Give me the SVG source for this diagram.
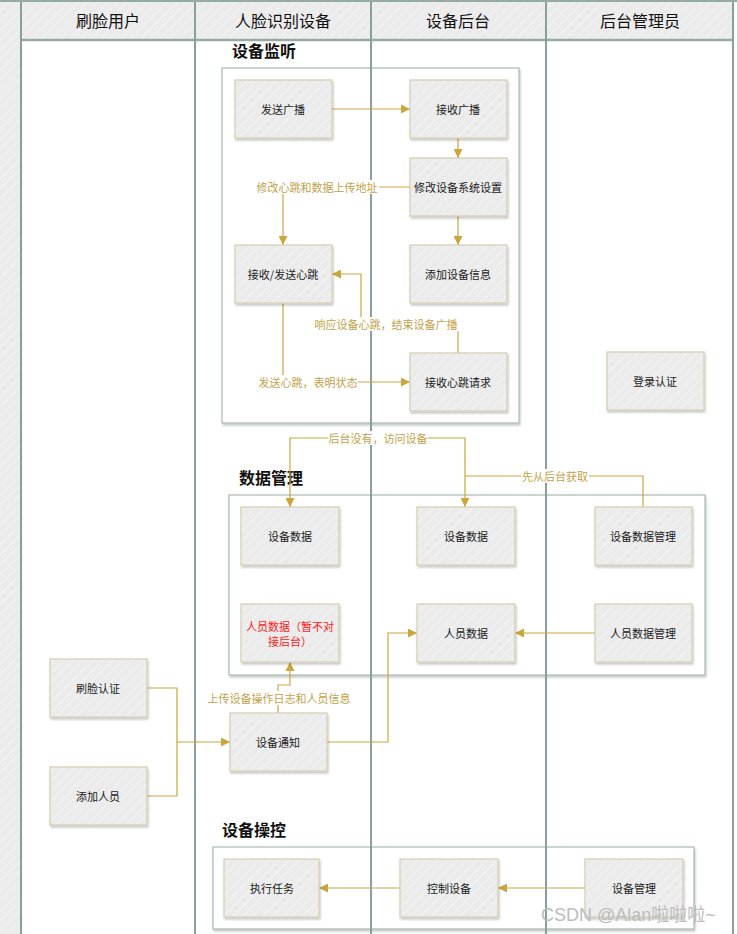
<svg xmlns="http://www.w3.org/2000/svg" width="737" height="934" viewBox="0 0 737 934">
<defs>
<pattern id="hatch" width="7" height="7" patternUnits="userSpaceOnUse" patternTransform="rotate(45)">
<rect width="7" height="7" fill="#ebebeb"/>
<line x1="0" y1="0" x2="0" y2="7" stroke="#f1f1f1" stroke-width="2.5"/>
</pattern>
<filter id="sh" x="-10%" y="-10%" width="130%" height="130%">
<feDropShadow dx="1" dy="2" stdDeviation="1.2" flood-color="#000" flood-opacity="0.22"/>
</filter>
<marker id="arr" viewBox="0 0 10 10" refX="10" refY="5" markerWidth="9" markerHeight="9" markerUnits="userSpaceOnUse" orient="auto">
<path d="M0,0 L10,5 L0,10 z" fill="#c9a73f"/>
</marker>
</defs>
<style>
.hdr{fill:url(#hatch);stroke:#9fb2ab;stroke-width:1}
.hdrt{font-family:"Noto Sans CJK SC","Noto Sans",sans-serif;font-size:16px;fill:#111;text-anchor:middle;dominant-baseline:central}
.lane{stroke:#8aa097;stroke-width:2;fill:none}
.grp{fill:#fff;stroke:#a7b8b2;stroke-width:1.2}
.gt{font-family:"Noto Sans CJK SC","Noto Sans",sans-serif;font-size:16px;font-weight:bold;fill:#111}
.nd{fill:url(#hatch);stroke:#d5cdb2;stroke-width:1.2}
.nt{font-family:"Noto Sans CJK SC","Noto Sans",sans-serif;font-size:11px;fill:#1a1a1a;text-anchor:middle;dominant-baseline:central}
.red{fill:#ff1a1a}
.cn{fill:none;stroke:#c9a73f;stroke-width:1.2}
.lb{font-family:"Noto Sans CJK SC","Noto Sans",sans-serif;font-size:11px;fill:#c2a24a;text-anchor:middle;dominant-baseline:central}
.lbg{fill:#fff}
</style>
<rect width="737" height="934" fill="#fff"/>
<g id="lanes">
<rect x="0" y="0" width="21" height="934" fill="url(#hatch)"/>
<rect class="hdr" x="21" y="0" width="174" height="40"/>
<rect class="hdr" x="195" y="0" width="176" height="40"/>
<rect class="hdr" x="371" y="0" width="175" height="40"/>
<rect class="hdr" x="546" y="0" width="187" height="40"/>
<line x1="21" y1="40" x2="733" y2="40" stroke="#98aaa4" stroke-width="2.5"/>
<text class="hdrt" x="108" y="20">刷脸用户</text>
<text class="hdrt" x="283" y="20">人脸识别设备</text>
<text class="hdrt" x="458" y="20">设备后台</text>
<text class="hdrt" x="640" y="20">后台管理员</text>
</g>
<g id="group-monitor">
<rect class="grp" x="222" y="68" width="297" height="355" filter="url(#sh)"/>
<text class="gt" x="232" y="57">设备监听</text>
</g>
<g id="group-data">
<rect class="grp" x="229" y="495" width="476" height="180" filter="url(#sh)"/>
<text class="gt" x="239" y="484">数据管理</text>
</g>
<g id="group-control">
<rect class="grp" x="213" y="847" width="481" height="82" filter="url(#sh)"/>
<text class="gt" x="222" y="836">设备操控</text>
</g>
<g id="lane-lines">
<line class="lane" x1="21" y1="0" x2="21" y2="934"/>
<line class="lane" x1="195" y1="0" x2="195" y2="934"/>
<line class="lane" x1="371" y1="0" x2="371" y2="934"/>
<line class="lane" x1="546" y1="0" x2="546" y2="934"/>
<line class="lane" x1="733" y1="0" x2="733" y2="934"/>
<line x1="0" y1="1" x2="737" y2="1" stroke="#98aaa4" stroke-width="2"/>
</g>
<g id="connectors">
<path class="cn" d="M332,109 H410" marker-end="url(#arr)"/>
<path class="cn" d="M458,138 V158" marker-end="url(#arr)"/>
<path class="cn" d="M410,187 H283 V245" marker-end="url(#arr)"/>
<path class="cn" d="M458,216 V245" marker-end="url(#arr)"/>
<path class="cn" d="M458,353 V324 H361 V274 H332" marker-end="url(#arr)"/>
<path class="cn" d="M283,303 V382 H410" marker-end="url(#arr)"/>
<path class="cn" d="M465,476 V438 H290 V507" marker-end="url(#arr)"/>
<path class="cn" d="M643,507 V476 H465 V507" marker-end="url(#arr)"/>
<path class="cn" d="M595,633 H515" marker-end="url(#arr)"/>
<path class="cn" d="M147,688 H177 V742 H230" marker-end="url(#arr)"/>
<path class="cn" d="M147,796 H177 V742"/>
<path class="cn" d="M278,713 V685 H290 V662" marker-end="url(#arr)"/>
<path class="cn" d="M327,742 H388 V633 H417" marker-end="url(#arr)"/>
<path class="cn" d="M585,888 H498" marker-end="url(#arr)"/>
<path class="cn" d="M400,888 H319" marker-end="url(#arr)"/>
<rect class="lbg" x="256" y="180" width="123" height="14"/>
<text class="lb" x="317" y="187">修改心跳和数据上传地址</text>
<rect class="lbg" x="314" y="317" width="145" height="14"/>
<text class="lb" x="386" y="324">响应设备心跳，结束设备广播</text>
<rect class="lbg" x="257" y="375" width="101" height="14"/>
<text class="lb" x="308" y="382">发送心跳，表明状态</text>
<rect class="lbg" x="328" y="431" width="100" height="14"/>
<text class="lb" x="378" y="438">后台没有，访问设备</text>
<rect class="lbg" x="521" y="469" width="68" height="14"/>
<text class="lb" x="555" y="476">先从后台获取</text>
<rect class="lbg" x="207" y="691" width="144" height="14"/>
<text class="lb" x="279" y="698">上传设备操作日志和人员信息</text>
</g>
<g id="n-send-broadcast"><rect class="nd" x="235" y="80" width="97" height="58" filter="url(#sh)"/><text class="nt" x="283" y="109">发送广播</text></g>
<g id="n-recv-broadcast"><rect class="nd" x="410" y="80" width="97" height="58" filter="url(#sh)"/><text class="nt" x="458" y="109">接收广播</text></g>
<g id="n-modify-settings"><rect class="nd" x="410" y="158" width="97" height="58" filter="url(#sh)"/><text class="nt" x="458" y="187">修改设备系统设置</text></g>
<g id="n-heartbeat"><rect class="nd" x="235" y="245" width="97" height="58" filter="url(#sh)"/><text class="nt" x="283" y="274">接收/发送心跳</text></g>
<g id="n-add-device-info"><rect class="nd" x="410" y="245" width="97" height="58" filter="url(#sh)"/><text class="nt" x="458" y="274">添加设备信息</text></g>
<g id="n-recv-heartbeat"><rect class="nd" x="410" y="353" width="97" height="58" filter="url(#sh)"/><text class="nt" x="458" y="382">接收心跳请求</text></g>
<g id="n-login"><rect class="nd" x="607" y="352" width="97" height="58" filter="url(#sh)"/><text class="nt" x="655" y="381">登录认证</text></g>
<g id="n-dev-data-device"><rect class="nd" x="241" y="507" width="98" height="58" filter="url(#sh)"/><text class="nt" x="290" y="536">设备数据</text></g>
<g id="n-dev-data-backend"><rect class="nd" x="417" y="507" width="98" height="58" filter="url(#sh)"/><text class="nt" x="466" y="536">设备数据</text></g>
<g id="n-dev-data-mgmt"><rect class="nd" x="595" y="507" width="97" height="58" filter="url(#sh)"/><text class="nt" x="643" y="536">设备数据管理</text></g>
<g id="n-person-data-device"><rect class="nd" x="241" y="604" width="98" height="58" filter="url(#sh)"/><text class="nt red" x="290" y="626">人员数据（暂不对</text><text class="nt red" x="290" y="641">接后台）</text></g>
<g id="n-person-data-backend"><rect class="nd" x="417" y="604" width="98" height="58" filter="url(#sh)"/><text class="nt" x="466" y="633">人员数据</text></g>
<g id="n-person-data-mgmt"><rect class="nd" x="595" y="604" width="97" height="58" filter="url(#sh)"/><text class="nt" x="643" y="633">人员数据管理</text></g>
<g id="n-face-auth"><rect class="nd" x="50" y="659" width="97" height="58" filter="url(#sh)"/><text class="nt" x="98" y="688">刷脸认证</text></g>
<g id="n-add-person"><rect class="nd" x="50" y="767" width="97" height="58" filter="url(#sh)"/><text class="nt" x="98" y="796">添加人员</text></g>
<g id="n-dev-notify"><rect class="nd" x="230" y="713" width="97" height="58" filter="url(#sh)"/><text class="nt" x="278" y="742">设备通知</text></g>
<g id="n-exec-task"><rect class="nd" x="224" y="859" width="95" height="58" filter="url(#sh)"/><text class="nt" x="272" y="888">执行任务</text></g>
<g id="n-control-dev"><rect class="nd" x="400" y="859" width="98" height="58" filter="url(#sh)"/><text class="nt" x="449" y="888">控制设备</text></g>
<g id="n-dev-mgmt"><rect class="nd" x="585" y="859" width="98" height="58" filter="url(#sh)"/><text class="nt" x="634" y="888">设备管理</text></g>
<text x="541" y="921" font-family="'Liberation Sans','Noto Sans CJK SC',sans-serif" font-size="18" fill="#bcbcbc">CSDN @Alan啦啦啦~</text>
</svg>
